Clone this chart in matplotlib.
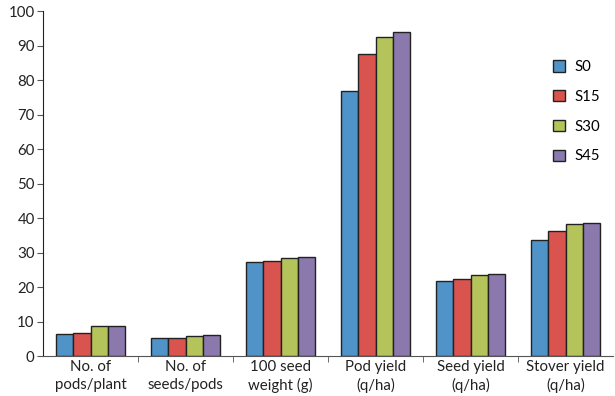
import matplotlib
matplotlib.use("Agg")
import matplotlib.pyplot as plt
import numpy as np

categories = ["No. of\npods/plant", "No. of\nseeds/pods", "100 seed\nweight (g)",
              "Pod yield\n(q/ha)", "Seed yield\n(q/ha)", "Stover yield\n(q/ha)"]
series_names = ["S0", "S15", "S30", "S45"]
S0 = [6.3, 5.1, 27.3, 76.7, 21.7, 33.5]
S15 = [6.6, 5.1, 27.5, 87.7, 22.2, 36.2]
S30 = [8.8, 5.7, 28.3, 92.6, 23.4, 38.4]
S45 = [8.8, 6.0, 28.6, 93.8, 23.7, 38.7]
yticks = [0, 10, 20, 30, 40, 50, 60, 70, 80, 90, 100]

colors = ["#4F93C9", "#D9534F", "#B5C45A", "#8B79AE"]

plt.rcParams['font.family'] = ['Lato', 'DejaVu Sans']
fig = plt.figure(figsize=(6.15, 3.96), dpi=100)
ax = fig.add_axes([0.07, 0.101, 0.927, 0.871])

x = np.arange(len(categories))
w = 0.182
for i, (vals, name) in enumerate(zip([S0, S15, S30, S45], series_names)):
    ax.bar(x + (i - 1.5) * w, vals, width=w, color=colors[i], edgecolor="#222222",
           linewidth=1.0, label=name, zorder=2)

ax.set_xlim(-0.5, len(categories) - 0.5)
ax.set_ylim(0, 100)
ax.set_yticks(yticks)
ax.set_yticklabels([str(t) for t in yticks], fontsize=10.8, color="#222222")
ax.set_xticks(x)
ax.set_xticklabels(categories, fontsize=10.8, color="#222222", linespacing=1.35)
ax.tick_params(axis='x', length=0, pad=3)
ax.set_xticks(np.arange(0.5, len(categories) - 0.5, 1), minor=True)
ax.tick_params(axis='x', which='minor', length=4, color="#555555", direction='out')
ax.tick_params(axis='y', length=4, color="#555555", direction='out', pad=2)
for s in ["top", "right"]:
    ax.spines[s].set_visible(False)
ax.spines["left"].set_color("#222222")
ax.spines["bottom"].set_color("#555555")

leg = ax.legend(loc="upper left", bbox_to_anchor=(0.884, 0.875), frameon=False,
                fontsize=10.8, handlelength=0.8, handleheight=0.8, labelspacing=1.05,
                handletextpad=0.6, borderaxespad=0)

fig.savefig("out.png", dpi=100)
